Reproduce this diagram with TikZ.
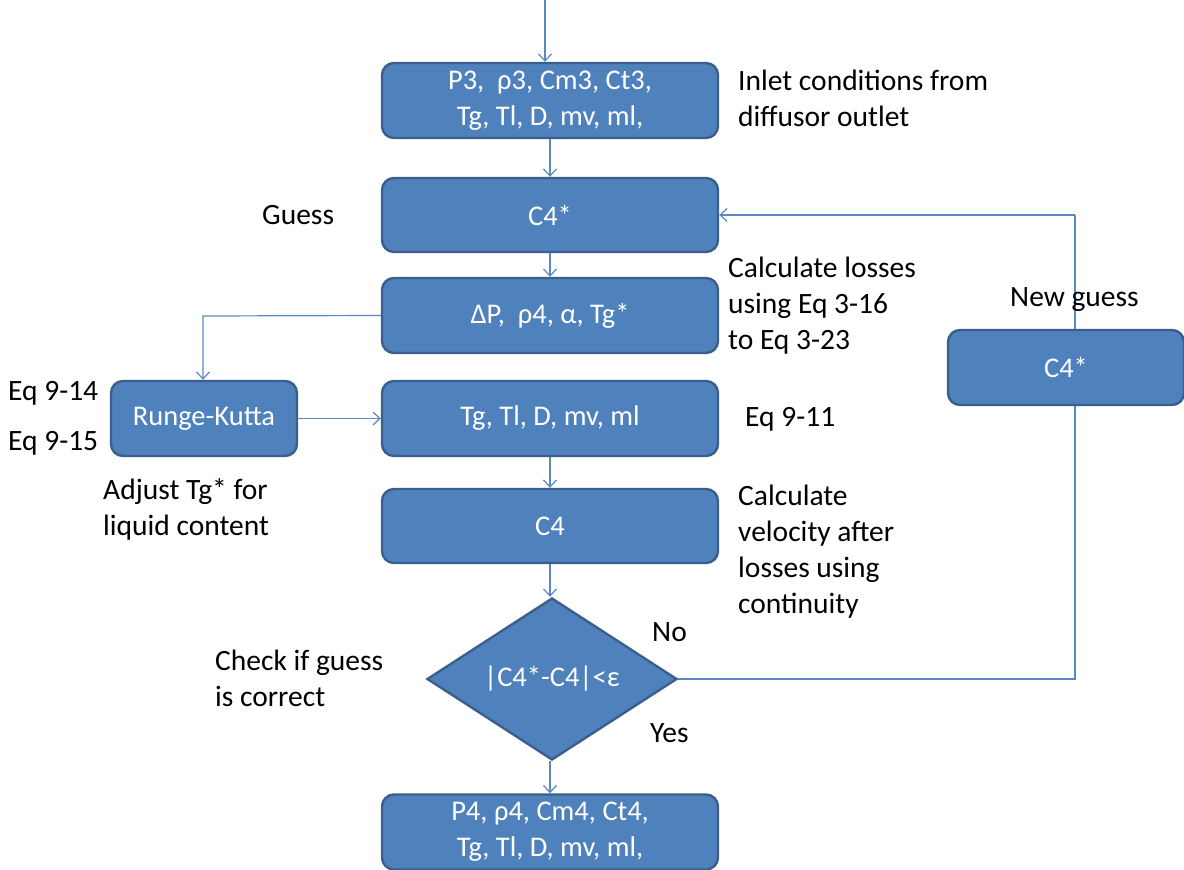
\documentclass[tikz,border=0pt]{standalone}
\usepackage{fontspec}
\setmainfont{Carlito}
\usetikzlibrary{shapes.geometric,arrows.meta}
\definecolor{boxfill}{HTML}{4F81BD}
\definecolor{boxedge}{HTML}{3A5F8C}
\definecolor{wire}{HTML}{5A88C0}
\tikzset{
  stepbox/.style={draw=boxedge, line width=2.4pt, fill=boxfill, rounded corners=12pt,
    text=white, align=center, font=\fontsize{28.5}{36}\selectfont, inner sep=0pt},
  decbox/.style={draw=boxedge, line width=2.4pt, fill=boxfill, shape=diamond, aspect=1.54,
    minimum width=250pt, minimum height=162pt, inner sep=0pt, text=white,
    font=\fontsize{28.5}{36}\selectfont},
  note/.style={anchor=west, align=left, font=\fontsize{29.5}{36}\selectfont, inner sep=0pt},
  flow/.style={draw=wire, line width=1.2pt, -{Straight Barb[length=7pt,width=13pt,line width=1.2pt]}},
  plain/.style={draw=wire, line width=1.2pt}
}
\begin{document}
\begin{tikzpicture}[x=1pt,y=-1pt]
\useasboundingbox (0,0) rectangle (1184,870);
% main column of steps
\node[stepbox, minimum width=336pt, minimum height=75pt] (inlet) at (550,100.5) {P3,~~ρ3, Cm3, Ct3,\\Tg, Tl, D, mv, ml,};
\node[stepbox, minimum width=336pt, minimum height=74pt] (guess) at (550,215) {C4*};
\node[stepbox, minimum width=336pt, minimum height=75pt] (loss) at (550,315.5) {ΔP,~~ρ4, α, Tg*};
\node[stepbox, minimum width=336pt, minimum height=75pt] (props) at (550,418.5) {Tg, Tl, D, mv, ml};
\node[stepbox, minimum width=186pt, minimum height=75pt] (rk) at (204,418.5) {Runge-Kutta};
\node[stepbox, minimum width=336pt, minimum height=74pt] (velo) at (550,526) {C4};
\node[decbox] (check) at (552,679) {|C4*-C4|<ε};
\node[stepbox, minimum width=336pt, minimum height=75pt] (outlet) at (550,832) {P4, ρ4, Cm4, Ct4,\\Tg, Tl, D, mv, ml,};
% loop-back path for a new guess
\coordinate (nr) at (1075,679);
\coordinate (nt) at (1075,215);
\draw[plain] (check.east) -- (nr) -- (nt);
\draw[flow] (nt) -- (guess.east);
\node[stepbox, minimum width=236pt, minimum height=75pt] (newg) at (1066,367.5) {C4*};
% connectors
\coordinate (top) at (545,0);
\draw[flow] (top) -- (inlet.north -| top);
\draw[flow] (inlet.south) -- (guess.north);
\draw[flow] (guess.south) -- (loss.north);
\coordinate (lk) at (203,316);
\draw[flow] (loss.west) -- (lk) -- (rk.north -| lk);
\draw[flow] (rk.east) -- (props.west);
\draw[flow] (props.south) -- (velo.north);
\draw[flow] (velo.south) -- (check.north -| velo.south);
\draw[flow] (check.south -| velo.south) -- (outlet.north);
% annotations
\node[note] (n1) at (738,98) {Inlet conditions from\\diffusor outlet};
\node[note] (n2) at (262,215) {Guess};
\node[note] (n3) at (728,306) {Calculate losses\\using Eq 3-16\\to Eq 3-23};
\node[note] (n4) at (1010,300) {New guess};
\node[note] (n5) at (8,393) {Eq 9-14};
\node[note] (n6) at (8,443) {Eq 9-15};
\node[note] (n7) at (745,419) {Eq 9-11};
\node[note] (n8) at (103,509) {Adjust Tg* for\\liquid content};
\node[note] (n9) at (738,552) {Calculate\\velocity after\\losses using\\continuity};
\node[note] (n10) at (652,632) {No};
\node[note] (n11) at (650,733) {Yes};
\node[note] (n12) at (215,678) {Check if guess\\is correct};
\end{tikzpicture}
\end{document}
